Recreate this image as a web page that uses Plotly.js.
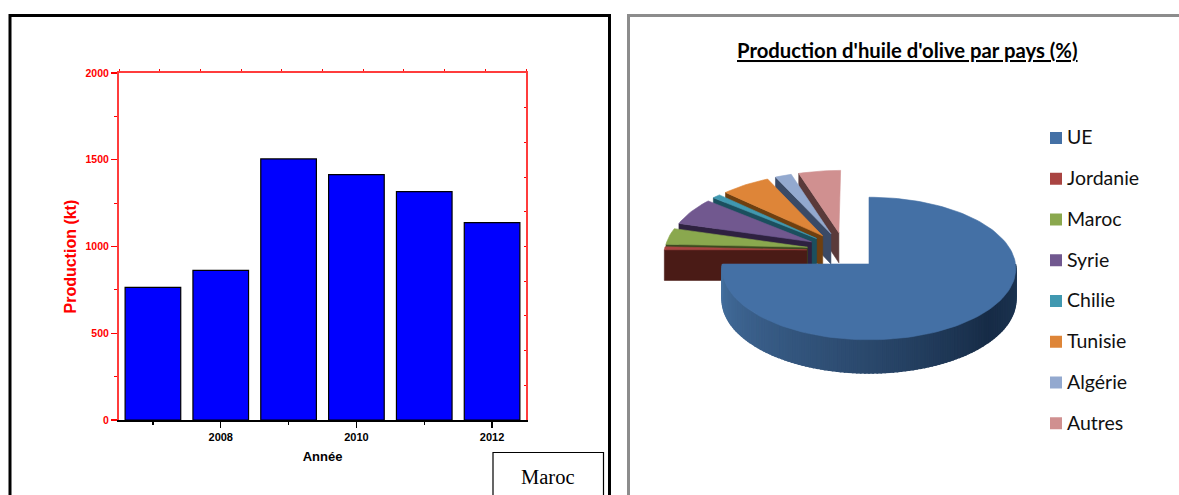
<!DOCTYPE html>
<html lang="fr">
<head>
<meta charset="utf-8">
<script src="https://cdn.plot.ly/plotly-3.0.1.min.js"></script>
<style>html,body{margin:0;padding:0;background:#fff;overflow:hidden}#chart{width:1179px;height:495px}</style>
</head>
<body>
<div id="chart"></div>
<script>
// Production marocaine d'huile d'olive (kt)
const years = [2007, 2008, 2009, 2010, 2011, 2012];
const production = [764, 862, 1505, 1414, 1316, 1138];

// Parts de production par pays (%)
const countries = ['UE', 'Jordanie', 'Maroc', 'Syrie', 'Chilie', 'Tunisie', 'Algérie', 'Autres'];
const shares = [75, 0.7, 3.8, 6.4, 1, 6, 2, 5.1];

const topColors = ['#4470a5', '#a94442', '#8aa84e', '#71588f', '#4098b0', '#de8538', '#93a9cf', '#d09090'];
const wallColors = ['#2a486c', '#4a1b16', '#3c4a20', '#2e2140', '#1b4f5e', '#6e3f10', '#3a4a66', '#5a3a3a'];

// Projection du camembert en perspective
const W = 1179, H = 495;
const pie = {cx: 869, cy: 264, rx: 146.5, ry: 71, persp: 0.0635, depth: 31, pull: 0.26, shiftU: -0.17, shiftV: -0.197, detachedScale: 0.985};

function project(u, v, z) {
  const s = 1 / (1 - pie.persp * v);
  return [pie.cx + pie.rx * u * s, pie.cy + (pie.ry * v + z) * s];
}
function polar(deg, r = 1) {
  const a = deg * Math.PI / 180;
  return [r * Math.sin(a), -r * Math.cos(a)];
}
function poly(points, fill, edge = 0.6) {
  return {
    type: 'scatter', mode: 'lines', xaxis: 'x3', yaxis: 'y3', fill: 'toself', fillcolor: fill,
    x: points.map(p => p[0]), y: points.map(p => p[1]),
    line: {color: fill, width: edge}, hoverinfo: 'skip', showlegend: false
  };
}
function hexMix(a, b, t) {
  const c = h => [1, 3, 5].map(i => parseInt(h.substr(i, 2), 16));
  const ca = c(a), cb = c(b);
  return 'rgb(' + ca.map((v, i) => Math.round(v + (cb[i] - v) * t)).join(',') + ')';
}

const total = shares.reduce((a, b) => a + b, 0);
const slices = [];
let acc = 0;
shares.forEach((share, i) => {
  const start = acc / total * 360;
  acc += share;
  const end = acc / total * 360;
  slices.push({start, end, i});
});

function wedge(slice, apexU, apexV, r) {
  const pts = [project(apexU, apexV, 0)];
  const n = Math.max(2, Math.ceil((slice.end - slice.start) / 2));
  for (let k = 0; k <= n; k++) {
    const [u, v] = polar(slice.start + (slice.end - slice.start) * k / n, r);
    pts.push(project(apexU + u, apexV + v, 0));
  }
  pts.push(pts[0]);
  return pts;
}

const pieTraces = [];

// Parts détachées, de l'arrière vers l'avant
slices.slice(1).reverse().forEach(sl => {
  const mid = polar((sl.start + sl.end) / 2);
  const au = pie.shiftU + pie.pull * mid[0];
  const av = pie.shiftV + pie.pull * mid[1];
  const [eu, ev] = polar(sl.start, pie.detachedScale);
  pieTraces.push(poly([
    project(au + eu, av + ev, 0), project(au, av, 0),
    project(au, av, pie.depth), project(au + eu, av + ev, pie.depth),
    project(au + eu, av + ev, 0)
  ], wallColors[sl.i]));
  pieTraces.push(poly(wedge(sl, au, av, pie.detachedScale), topColors[sl.i]));
});

// Flanc de la grande part, dégradé le long de l'arc
const wallStops = [[90, '#1c3553'], [130, '#172c47'], [180, '#2a486c'], [230, '#3a5f8a'], [270, '#44709f']];
function wallColor(deg) {
  for (let k = 0; k < wallStops.length - 1; k++) {
    const [d0, c0] = wallStops[k], [d1, c1] = wallStops[k + 1];
    if (deg <= d1) return hexMix(c0, c1, (deg - d0) / (d1 - d0));
  }
  return wallStops[wallStops.length - 1][1];
}
const mainEnd = slices[0].end;
const wallStep = 1.5;
for (let d = 90; d < mainEnd; d += wallStep) {
  const d2 = Math.min(d + wallStep, mainEnd);
  const [u1, v1] = polar(d), [u2, v2] = polar(d2);
  pieTraces.push(poly([
    project(u1, v1, 0), project(u2, v2, 0),
    project(u2, v2, pie.depth), project(u1, v1, pie.depth),
    project(u1, v1, 0)
  ], wallColor((d + d2) / 2), 1.6));
}
pieTraces.push(poly(wedge(slices[0], 0, 0, 1), topColors[0]));

// Légende du camembert
const legendX = 1056, legendTextX = 1067, legendTop = 138, legendStep = 40.75;
const legendMarkers = {
  type: 'scatter', mode: 'markers', xaxis: 'x3', yaxis: 'y3',
  x: countries.map(() => legendX),
  y: countries.map((c, i) => legendTop + i * legendStep),
  marker: {symbol: 'square', size: 12, color: topColors, line: {width: 0}},
  hoverinfo: 'skip', showlegend: false
};
const legendLabels = {
  type: 'scatter', mode: 'text', xaxis: 'x3', yaxis: 'y3',
  x: countries.map(() => legendTextX),
  y: countries.map((c, i) => legendTop + 1.5 + i * legendStep),
  text: countries, textposition: 'middle right',
  textfont: {family: 'Lato, sans-serif', size: 19.5, color: '#111'},
  hoverinfo: 'skip', showlegend: false
};

const barTrace = {
  type: 'bar', x: years, y: production, width: 0.82,
  marker: {color: '#0000ff', line: {color: '#000', width: 1.2}},
  hoverinfo: 'skip', showlegend: false
};
// Axes miroirs du haut et de la droite
const mirrorTrace = {type: 'scatter', mode: 'none', x: [0], y: [0], xaxis: 'x2', yaxis: 'y2', hoverinfo: 'skip', showlegend: false};

const sans = 'Liberation Sans, Arial, sans-serif';
const axisRed = '#ff3c3c';
const plotX = [119 / W, 526 / W];
const plotY = [1 - 420 / H, 1 - 73 / H];

const layout = {
  width: W, height: H, margin: {l: 0, r: 0, t: 0, b: 0},
  paper_bgcolor: '#fff', plot_bgcolor: 'rgba(0,0,0,0)', showlegend: false,
  xaxis: {
    domain: plotX, anchor: 'y', range: [2006.5, 2012.5], tick0: 2008, dtick: 2,
    ticks: 'outside', ticklen: 6, tickwidth: 1.2, tickcolor: '#000', showline: true, linecolor: '#000', linewidth: 1.5,
    minor: {dtick: 1, ticks: 'outside', ticklen: 3, tickwidth: 1.2, tickcolor: '#000', showgrid: false},
    showgrid: false, zeroline: false, tickformat: 'd',
    tickfont: {family: sans, size: 11, color: '#000', weight: 700},
    title: {text: 'Année', font: {family: sans, size: 13, color: '#000', weight: 700}, standoff: 10}
  },
  yaxis: {
    domain: plotY, anchor: 'x', range: [0, 2000], tick0: 0, dtick: 500,
    ticks: 'outside', ticklen: 6, tickwidth: 1.2, tickcolor: '#ff0000', showline: true, linecolor: axisRed, linewidth: 2,
    minor: {dtick: 250, ticks: 'outside', ticklen: 3, tickwidth: 1, tickcolor: '#ff0000', showgrid: false},
    showgrid: false, zeroline: false,
    tickfont: {family: sans, size: 10.5, color: '#ff0000', weight: 700}
  },
  xaxis2: {
    domain: plotX, anchor: 'y2', side: 'top', range: [0, 10], dtick: 1, overlaying: 'x',
    ticks: 'outside', ticklen: 2, tickwidth: 1, tickcolor: '#ff0000', showline: true, linecolor: axisRed, linewidth: 2,
    showticklabels: false, showgrid: false, zeroline: false
  },
  yaxis2: {
    domain: plotY, anchor: 'x2', side: 'right', range: [0, 2000], dtick: 200, overlaying: 'y',
    ticks: 'inside', ticklen: 2, tickwidth: 1, tickcolor: '#ff0000', showline: true, linecolor: axisRed, linewidth: 2,
    showticklabels: false, showgrid: false, zeroline: false
  },
  xaxis3: {domain: [0, 1], anchor: 'y3', range: [0, W], visible: false, fixedrange: true},
  yaxis3: {domain: [0, 1], anchor: 'x3', range: [H, 0], visible: false, fixedrange: true},
  shapes: [
    {type: 'rect', xref: 'x3', yref: 'y3', x0: 10, x1: 609.5, y0: 15.5, y1: 510, line: {color: '#000', width: 3}},
    {type: 'rect', xref: 'x3', yref: 'y3', x0: 628.5, x1: 1200, y0: 15.5, y1: 510, line: {color: '#8c8c8c', width: 3}},
    {type: 'rect', xref: 'x3', yref: 'y3', x0: 493, x1: 603.5, y0: 452.5, y1: 500, line: {color: '#000', width: 1.2}}
  ],
  annotations: [
    {xref: 'x3', yref: 'y3', x: 70, y: 256.5, text: 'Production (kt)', textangle: -90, showarrow: false,
     font: {family: sans, size: 16, color: '#ff0000', weight: 700}},
    {xref: 'x3', yref: 'y3', x: 547.5, y: 477, text: 'Maroc', showarrow: false,
     font: {family: 'Liberation Serif, Times New Roman, serif', size: 20.5, color: '#000'}},
    {xref: 'x3', yref: 'y3', x: 907.5, y: 49.5, text: "<u>Production d'huile d'olive par pays (%)</u>", showarrow: false,
     font: {family: 'Lato, sans-serif', size: 20.3, color: '#000', weight: 700}}
  ]
};

Plotly.newPlot('chart', [barTrace, mirrorTrace, ...pieTraces, legendMarkers, legendLabels], layout, {displayModeBar: false, staticPlot: true});
</script>
</body>
</html>
